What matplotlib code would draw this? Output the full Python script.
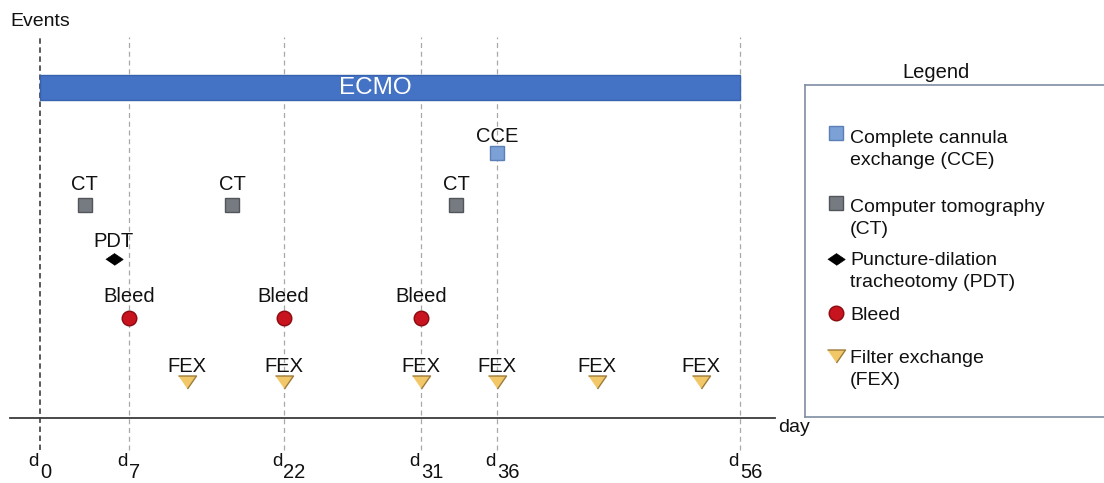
import numpy as np
import matplotlib
matplotlib.use("Agg")
import matplotlib.pyplot as plt

plt.rcParams["font.family"] = ["Liberation Sans", "DejaVu Sans"]

# days after ECMO start
tick_days = [0, 7, 22, 31, 36, 56]
ecmo_days = (0, 56)
cce_days = [36]
ct_days = [3.5, 17, 33.3]
pdt_days = [5.8]
bleed_days = [7, 22, 31]
fex_days = [12.6, 22, 31, 36, 44.2, 52.8]

W, H = 1104, 483
PT = 0.72  # points per pixel at dpi 100

fig = plt.figure(figsize=(W / 100, H / 100), dpi=100)

# the time axis is schematic, not linear: pixel position of each tick day
knot_days = np.array([-20.0] + tick_days + [80.0])
knot_px = np.array([40 - 20 * 89 / 7, 40, 129, 283.5, 421, 497, 740,
                    740 + 24 * 243 / 20])


def forward(d):
    return np.interp(d, knot_days, knot_px)


def inverse(p):
    return np.interp(p, knot_px, knot_days)


ax = fig.add_axes([10 / W, (H - 418) / H, 765 / W, 388 / H])
ax.set_xscale("function", functions=(forward, inverse))
ax.set_xlim(inverse(10), inverse(775))
ax.set_ylim(0, 388)

# lane heights (px above the time axis)
lanes = {"ECMO": 330.5, "CCE": 265.5, "CT": 213.5, "PDT": 159,
         "Bleed": 100.5, "FEX": 36.5}

styles = {
    "CCE": dict(marker="s", ms=10.5, mfc="#7ba1d6", mec="#5b7fb6", mew=1),
    "CT": dict(marker="s", ms=10.5, mfc="#767b81", mec="#52565b", mew=1),
    "PDT": dict(marker=[(-1, 0), (0, 0.68), (1, 0), (0, -0.68)], ms=12.5,
                mfc="black", mec="black", mew=0.5),
    "Bleed": dict(marker="o", ms=10.5, mfc="#c8141e", mec="#8a0a10", mew=1),
    "FEX": dict(marker=[(-1, 0.72), (1, 0.72), (0, -0.72)], ms=13,
                mfc="#f2c768", mec="#9c7c3c", mew=1),
}
label_gap = {"CCE": 10, "CT": 15, "PDT": 12, "Bleed": 15, "FEX": 10}

# dashed day lines
for d in tick_days:
    first = d == tick_days[0]
    ax.vlines(d, -32, 381, colors="#4d4d4d" if first else "#a8a8a8",
              linestyles=(0, (3, 2)) if first else (0, (4, 3)),
              lw=1.3 if first else 0.9, clip_on=False, zorder=1)

# ECMO run
ax.barh(lanes["ECMO"], ecmo_days[1] - ecmo_days[0], left=ecmo_days[0],
        height=25, color="#4472c4", edgecolor="#3762ad", lw=1, zorder=2)
ax.text(np.mean(ecmo_days), lanes["ECMO"], "ECMO", color="white",
        fontsize=17.5, ha="center", va="center", zorder=3)

events = {"CCE": cce_days, "CT": ct_days, "PDT": pdt_days,
          "Bleed": bleed_days, "FEX": fex_days}
for name, days in events.items():
    y = np.full(len(days), lanes[name])
    ax.plot(days, y, ls="none", zorder=4, **styles[name])
    for d in days:
        ax.annotate(name, (d, lanes[name]), xytext=(0, label_gap[name] * PT),
                    textcoords="offset points", ha="center", va="baseline",
                    fontsize=14.5, color="#111111")

# axis styling
for s in ("left", "right", "top"):
    ax.spines[s].set_visible(False)
ax.spines["bottom"].set_color("#3a3a3a")
ax.spines["bottom"].set_linewidth(1.3)
ax.set_xticks([])
ax.set_yticks([])
ax.patch.set_alpha(0)

# tick labels d with subscript day
for d in tick_days:
    ax.annotate("d", (d, 0), xytext=(-1 * PT, -48 * PT),
                textcoords="offset points", ha="right", va="baseline",
                fontsize=13.5, color="#111111", annotation_clip=False)
    ax.annotate(str(d), (d, 0), xytext=(0, -60 * PT),
                textcoords="offset points", ha="left", va="baseline",
                fontsize=14.5, color="#111111", annotation_clip=False)

fig.text(10 / W, 1 - 26 / H, "Events", fontsize=14, va="baseline",
         color="#111111")
fig.text(778 / W, 1 - 432 / H, "day", fontsize=14, va="baseline",
         color="#111111")

# legend panel (runs off the right edge of the figure)
lax = fig.add_axes([805 / W, (H - 417) / H, (1112 - 805) / W, (417 - 85) / H])
lax.set_xlim(805, 1112)
lax.set_ylim(417, 85)
lax.set_xticks([])
lax.set_yticks([])
for s in lax.spines.values():
    s.set_color("#7f8ea3")
    s.set_linewidth(1.2)
lax.spines["right"].set_visible(False)
fig.text(936 / W, 1 - 78 / H, "Legend", fontsize=14.5, ha="center",
         va="baseline", color="#111111")

# (key, label, marker y, baseline of last text line)
legend_rows = [
    ("CCE", "Complete cannula\nexchange (CCE)", 133.5, 165),
    ("CT", "Computer tomography\n(CT)", 203, 234),
    ("PDT", "Puncture-dilation\ntracheotomy (PDT)", 259, 287),
    ("Bleed", "Bleed", 313.5, 320),
    ("FEX", "Filter exchange\n(FEX)", 356, 385),
]
for key, text, my, ty in legend_rows:
    st = dict(styles[key])
    lax.plot([836], [my], ls="none", **st)
    lax.text(850, ty, text, fontsize=14, va="baseline", ha="left",
             linespacing=1.38, color="#111111")

fig.savefig("out.png", dpi=100)
